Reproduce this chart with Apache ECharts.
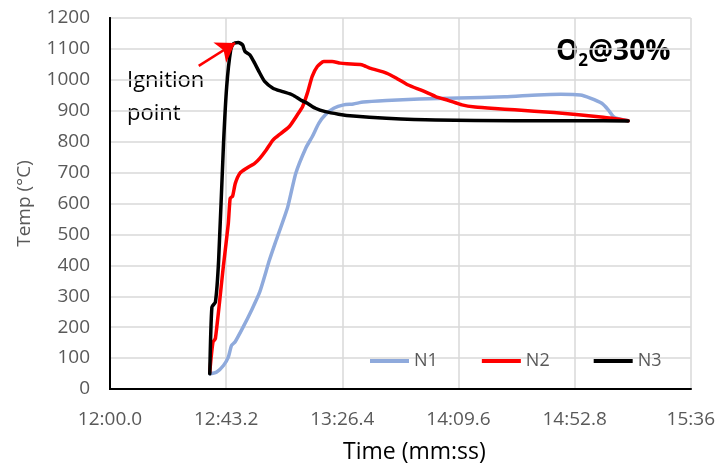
<!DOCTYPE html>
<html>
<head>
<meta charset="utf-8">
<script src="https://cdn.jsdelivr.net/npm/echarts@6/dist/echarts.min.js"></script>
<style>
html,body{margin:0;padding:0;background:#fff;}
#chart{width:718px;height:471px;}
</style>
</head>
<body>
<div id="chart"></div>
<script>
// time in seconds after 12:00.0
var tickLabels = ['12:00.0', '12:43.2', '13:26.4', '14:09.6', '14:52.8', '15:36'];

var n1Time = [37.3, 39.7, 42.2, 44.0, 45.2, 46.5, 49.5, 52.6, 55.7, 59.3, 61.8, 66.1, 69.1, 72.8, 75.2, 77.7, 80.1, 83.2, 86.9, 90.5, 94.2, 102.8, 115.0, 129.7, 146.8, 159.0, 167.6, 174.9, 178.6, 182.9, 185.3, 187.2, 189.0, 192.7];
var n1Temp = [49, 55, 76, 103, 141, 152, 200, 254, 314, 417, 481, 589, 698, 779, 816, 860, 887, 908, 919, 922, 928, 933, 938, 941, 945, 951, 953, 951, 941, 924, 903, 881, 874, 868];

var n2Time = [37.1, 38.3, 39.2, 42.2, 44.0, 44.7, 45.6, 46.6, 48.3, 50.8, 53.8, 55.7, 58.1, 60.6, 63.6, 66.7, 69.7, 71.6, 73.4, 75.2, 77.1, 79.5, 82.6, 85.6, 88.1, 93.6, 96.6, 102.8, 106.4, 110.7, 116.2, 121.1, 126.0, 130.9, 135.8, 143.1, 150.5, 165.1, 183.5, 192.7];
var n2Temp = [55, 152, 163, 400, 535, 617, 624, 665, 698, 714, 730, 746, 773, 805, 827, 849, 887, 913, 957, 1011, 1043, 1059, 1059, 1054, 1052, 1049, 1038, 1022, 1006, 984, 965, 946, 933, 919, 912, 907, 903, 894, 879, 868];

var n3Time = [37.1, 37.9, 39.2, 40.4, 42.2, 43.4, 44.9, 45.9, 47.7, 49.3, 50.2, 52.0, 53.8, 55.7, 57.5, 60.6, 64.2, 67.9, 70.9, 73.4, 76.4, 80.1, 85.0, 90.5, 102.8, 121.0, 150.5, 175.0, 192.7];
var n3Temp = [49, 265, 281, 416, 790, 978, 1097, 1117, 1121, 1113, 1092, 1081, 1054, 1022, 995, 973, 962, 951, 935, 924, 908, 897, 889, 883, 876, 870, 868, 868, 867];

var seriesNames = ['N1', 'N2', 'N3'];
var seriesColors = ['#8FAADC', '#FF0000', '#000000'];
var arrowFrom = [33.0, 1045];
var arrowTo = [46.5, 1119];

function pairs(t, v) { return t.map(function (x, i) { return [x, v[i]]; }); }
var allData = [pairs(n1Time, n1Temp), pairs(n2Time, n2Temp), pairs(n3Time, n3Temp)];

var FONT = 'Open Sans';
var boxLine = { show: true, lineStyle: { color: '#000', width: 2 } };
var chart = echarts.init(document.getElementById('chart'));
var option = {
  backgroundColor: '#fff',
  animation: false,
  textStyle: { fontFamily: FONT },
  grid: { left: 110, right: 19, top: 18, bottom: 82 },
  xAxis: [{
    type: 'value', min: 0, max: 216, interval: 43.2,
    axisLine: boxLine, axisTick: { show: false },
    splitLine: { show: true, lineStyle: { color: '#d9d9d9', width: 1.5 } },
    axisLabel: {
      color: '#595959', fontSize: 19, fontFamily: FONT, margin: 21,
      formatter: function (v) { return tickLabels[Math.round(v / 43.2)]; }
    }
  }, {
    type: 'value', position: 'top', min: 0, max: 216, interval: 43.2,
    axisLine: boxLine, axisTick: { show: false }, axisLabel: { show: false }, splitLine: { show: false }
  }],
  yAxis: [{
    type: 'value', min: 0, max: 1200, interval: 100,
    name: 'Temp (°C)', nameLocation: 'middle', nameGap: 76,
    nameTextStyle: { color: '#595959', fontSize: 19, fontFamily: FONT },
    axisLine: boxLine, axisTick: { show: false },
    splitLine: { show: true, lineStyle: { color: '#d9d9d9', width: 1.5 } },
    axisLabel: { color: '#595959', fontSize: 19, fontFamily: FONT, margin: 20, formatter: function (v) { return String(v); } }
  }, {
    type: 'value', position: 'right', min: 0, max: 1200, interval: 100,
    axisLine: boxLine, axisTick: { show: false }, axisLabel: { show: false }, splitLine: { show: false }
  }],
  legend: {
    data: seriesNames, left: 365, top: 347, icon: 'rect', itemWidth: 39, itemHeight: 4, itemGap: 44,
    textStyle: { color: '#595959', fontSize: 18, fontFamily: FONT }
  },
  graphic: [
    { type: 'text', left: 127, top: 64, style: { text: 'Ignition\npoint', fontSize: 22, lineHeight: 33, fill: '#000', stroke: null, lineWidth: 0, fontFamily: FONT } },
    { type: 'text', left: 556, top: 38, style: {
        text: '{b|O}{s|2}{b|@30%}', fontFamily: FONT, stroke: null, lineWidth: 0,
        rich: {
          b: { fontSize: 28, fontWeight: 'bold', fill: '#000', fontFamily: FONT, lineHeight: 35, verticalAlign: 'bottom' },
          s: { fontSize: 17, fontWeight: 'bold', fill: '#000', fontFamily: FONT, lineHeight: 20, verticalAlign: 'bottom', padding: [0, 0, -4, 0] }
        }
    } },
    { type: 'text', left: 343, top: 441, style: { text: 'Time (mm:ss)', fontSize: 23, fill: '#000', stroke: null, lineWidth: 0, fontFamily: FONT } }
  ],
  series: allData.map(function (d, i) {
    var s = {
      name: seriesNames[i], type: 'line', data: d, showSymbol: false, smooth: 0.2,
      color: seriesColors[i],
      lineStyle: { width: 3.5, color: seriesColors[i], join: 'round', cap: 'round' }
    };
    if (i === 2) {
      s.markLine = {
        silent: true, symbol: ['none', 'arrow'], symbolSize: 18, label: { show: false },
        lineStyle: { color: '#FF0000', width: 2.5, type: 'solid' },
        data: [[{ coord: arrowFrom }, { coord: arrowTo }]]
      };
    }
    return s;
  })
};
chart.setOption(option);
</script>
</body>
</html>
